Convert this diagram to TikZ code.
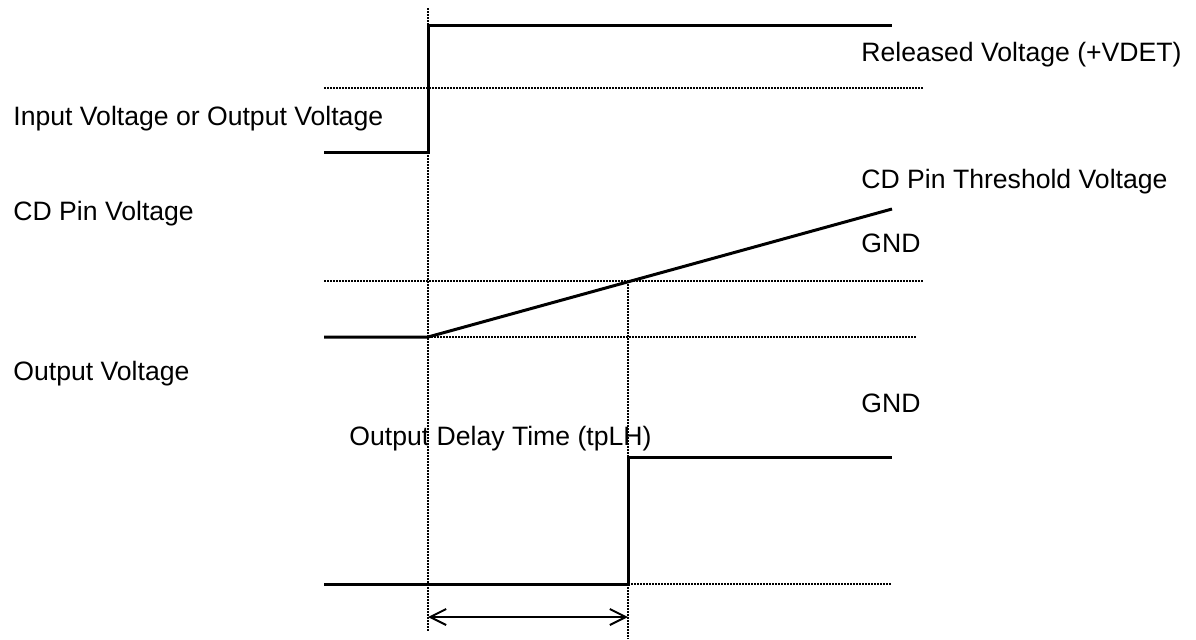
\documentclass[tikz,border=0pt]{standalone}
\usepackage{fontspec}
\setmainfont{Liberation Sans}
\usetikzlibrary{arrows.meta}
\tikzset{
  wave/.style={line width=1.5pt},
  guide/.style={line width=0.75pt, dash pattern=on 0.75pt off 0.75pt},
  lbl/.style={anchor=base west, inner sep=0pt, font=\fontsize{13.3}{15}\selectfont},
}
\begin{document}
\begin{tikzpicture}[x=0.5pt,y=-0.5pt]
  \useasboundingbox (0,0) rectangle (1196,639);
  % corners of the waveforms
  \coordinate (inA) at (324,152);  \coordinate (inB) at (428,152);
  \coordinate (inC) at (428,25);   \coordinate (inD) at (892,25);
  \coordinate (cdA) at (324,337);  \coordinate (cdB) at (428,337);
  \coordinate (cdC) at (892,209);
  \coordinate (outA) at (324,584); \coordinate (outB) at (628,584);
  \coordinate (outC) at (628,457); \coordinate (outD) at (892,457);
  % guide lines
  \draw[guide] (428,8) -- (428,632);
  \draw[guide] (628,281) -- (628,639);
  \foreach \y in {88,281}
    \draw[guide] (324,\y) -- (924,\y);
  \draw[guide] (cdB) -- (917,337);
  \draw[guide] (outB) -- (892,584);
  % waveforms
  \draw[wave] (inA) -- (inB) -- (inC) -- (inD);
  \draw[wave] (cdA) -- (cdB) -- (cdC);
  \draw[wave] (outA) -- (outB) -- (outC) -- (outD);
  \coordinate (dlyA) at (428,617);
  \coordinate (dlyB) at (628,617);
  \draw[{Straight Barb[length=8pt,width=8pt]}-{Straight Barb[length=8pt,width=8pt]},
        line width=1pt] (dlyA) -- (dlyB);
  % labels
  \node[lbl] (inlbl) at (13,125) {Input Voltage or Output Voltage};
  \node[lbl] (cdlbl) at (13,220) {CD Pin Voltage};
  \node[lbl] (outlbl) at (13,380) {Output Voltage};
  \node[lbl] (vdet) at (861,61) {Released Voltage (+VDET)};
  \node[lbl] (cdth) at (861,188) {CD Pin Threshold Voltage};
  \node[lbl] (gnda) at (861,252) {GND};
  \node[lbl] (gndb) at (861,412) {GND};
  \node[lbl] (tplh) at (349,445) {Output Delay Time (tpLH)};
\end{tikzpicture}
\end{document}
